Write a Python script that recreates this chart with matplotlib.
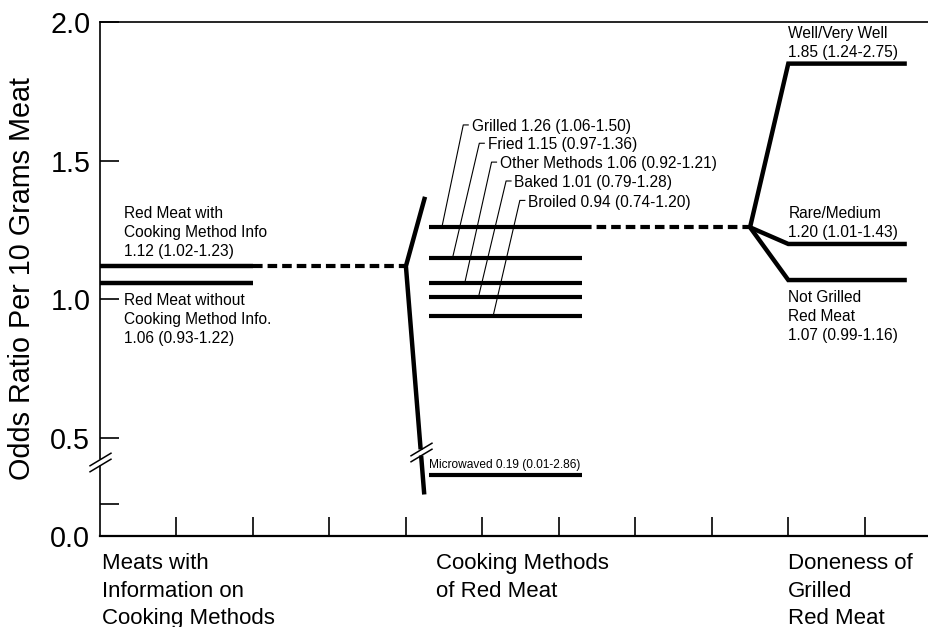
import numpy as np
import matplotlib.pyplot as plt
from matplotlib import transforms as mtransforms

plt.rcParams['font.family'] = ['Liberation Sans', 'DejaVu Sans']

# Data
meat_names = ['Red Meat with\nCooking Method Info', 'Red Meat without\nCooking Method Info.']
meat_or = [1.12, 1.06]
meat_ci = ['1.02-1.23', '0.93-1.22']

method_names = ['Grilled', 'Fried', 'Other Methods', 'Baked', 'Broiled', 'Microwaved']
method_or = [1.26, 1.15, 1.06, 1.01, 0.94, 0.19]
method_ci = ['1.06-1.50', '0.97-1.36', '0.92-1.21', '0.79-1.28', '0.74-1.20', '0.01-2.86']

done_names = ['Well/Very Well', 'Rare/Medium', 'Not Grilled\nRed Meat']
done_or = [1.85, 1.20, 1.07]
done_ci = ['1.24-2.75', '1.01-1.43', '0.99-1.16']

group_labels = ['Meats with\nInformation on\nCooking Methods',
                'Cooking Methods\nof Red Meat',
                'Doneness of\nGrilled\nRed Meat']
yticks = [0.0, 0.1, 0.5, 1.0, 1.5, 2.0]
ytick_labels = ['0.0', '', '0.5', '1.0', '1.5', '2.0']

# broken y scale: 0-0.2 stretched, 0.2-0.5 squeezed into the break
LOW0 = 0.1475
LOW_SLOPE = 1.151
LOW_END = LOW0 + LOW_SLOPE * 0.2


def fwd(v):
    v = np.asarray(v, float)
    mid = LOW_END + (v - 0.2) * (0.5 - LOW_END) / 0.3
    return np.where(v >= 0.5, v, np.where(v >= 0.2, mid, LOW0 + LOW_SLOPE * v))


def inv(u):
    u = np.asarray(u, float)
    mid = 0.2 + (u - LOW_END) * 0.3 / (0.5 - LOW_END)
    return np.where(u >= 0.5, u, np.where(u >= LOW_END, mid, (u - LOW0) / LOW_SLOPE))


fig = plt.figure(figsize=(9.29, 6.27), dpi=100)
ax = fig.add_axes([100 / 929, 91 / 627, 829 / 929, 514 / 627])
ax.set_yscale('function', functions=(fwd, inv))
ax.set_xlim(0, 10.84)
ax.set_ylim(0, 2.0)

lw = 3.2
dash = (0, (2.3, 1.2))
kw = dict(color='black', solid_capstyle='butt', solid_joinstyle='miter')

# meats with cooking info
for v in meat_or:
    ax.plot([0, 2], [v, v], lw=lw, **kw)
ax.plot([2, 4], [meat_or[0], meat_or[0]], lw=3.0, ls=dash, color='black')

# bracket for cooking methods
br_top = max(method_or) + 0.11
br_bot = min(method_or) - 0.06
ax.plot([4.25, 4.0, 4.24], [br_top, meat_or[0], br_bot], lw=lw, **kw)

for v in method_or:
    ax.plot([4.3, 6.3], [v, v], lw=3.0, **kw)
ax.plot([6.3, 8.5], [method_or[0], method_or[0]], lw=3.0, ls=dash, color='black')

# doneness branches
for v in done_or:
    ax.plot([8.5, 9.0, 10.55], [method_or[0], v, v], lw=lw, **kw)

fs = 11.2
ls_txt = 1.36
# text labels
ax.annotate(f'{meat_names[0]}\n{meat_or[0]:.2f} ({meat_ci[0]})', (0.31, meat_or[0]),
            xytext=(0, 5), textcoords='offset points', va='bottom', ha='left',
            fontsize=fs, linespacing=ls_txt)
ax.annotate(f'{meat_names[1]}\n{meat_or[1]:.2f} ({meat_ci[1]})', (0.31, meat_or[1]),
            xytext=(0, -7), textcoords='offset points', va='top', ha='left',
            fontsize=fs, linespacing=ls_txt)

leader_bot_x = [4.47, 4.61, 4.77, 4.95, 5.14]
leader_top_x = [4.75, 4.96, 5.12, 5.31, 5.49]
label_y = [1.623, 1.557, 1.489, 1.421, 1.351]
for i in range(5):
    xb, xt, yl = leader_bot_x[i], leader_top_x[i], label_y[i]
    ax.plot([xb, xt, xt + 0.065], [method_or[i], yl + 0.006, yl + 0.006],
            color='black', lw=0.8)
    ax.text(xt + 0.11, yl, f'{method_names[i]} {method_or[i]:.2f} ({method_ci[i]})',
            va='center', ha='left', fontsize=fs)

ax.annotate(f'{method_names[5]} {method_or[5]:.2f} ({method_ci[5]})', (4.3, method_or[5]),
            xytext=(0, 5), textcoords='offset points', va='baseline', ha='left',
            fontsize=8.6)

for i, v in enumerate(done_or):
    txt = f'{done_names[i]}\n{v:.2f} ({done_ci[i]})'
    if i < 2:
        ax.annotate(txt, (9.0, v), xytext=(0, 2.5), textcoords='offset points',
                    va='bottom', ha='left', fontsize=fs, linespacing=ls_txt)
    else:
        ax.annotate(txt, (9.0, v), xytext=(0, -7), textcoords='offset points',
                    va='top', ha='left', fontsize=fs, linespacing=ls_txt)

# group labels under axis
for x, lab in zip([0.03, 4.4, 9.0], group_labels):
    ax.annotate(lab, (x, 0), xycoords=('data', 'axes fraction'), xytext=(0, -12.5),
                textcoords='offset points', va='top', ha='left', fontsize=16,
                linespacing=1.4)

# axis break marks
slash = [(-1, -0.6), (1, 0.6)]


def break_mark(x, y):
    ax.plot([x], [y], marker='|', color='white', ms=4.5, mew=5, clip_on=False, zorder=6)
    for dy in (-2.3, 2.3):
        tr = mtransforms.offset_copy(ax.transData, fig=fig, x=0, y=dy, units='points')
        ax.plot([x], [y], marker=slash, color='black', ms=16, mew=1.1,
                transform=tr, clip_on=False, zorder=7)


break_mark(0, 0.288)
yb = 0.376
t = (fwd(meat_or[0]) - fwd(yb)) / (fwd(meat_or[0]) - fwd(br_bot))
break_mark(4.0 + t * 0.24, yb)

# axes styling
ax.set_yticks(yticks)
ax.set_yticklabels(ytick_labels)
ax.set_xticks(np.arange(1, 11))
ax.set_xticklabels([])
ax.minorticks_off()
ax.tick_params(direction='in', length=14, width=1.2, labelsize=20.7, pad=7)
ax.spines['right'].set_visible(False)
ax.spines['left'].set_linewidth(1.2)
ax.spines['top'].set_linewidth(1.2)
ax.spines['bottom'].set_linewidth(1.6)
ax.set_ylabel('Odds Ratio Per 10 Grams Meat', fontsize=20.7)
ax.yaxis.set_label_coords(-0.077, 0.5)

fig.savefig('out.png', dpi=100)
